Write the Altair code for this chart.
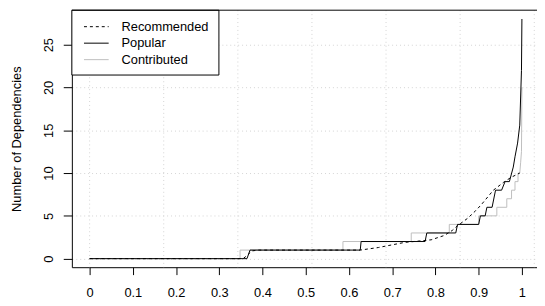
import altair as alt
import pandas as pd

series_names = ["Recommended", "Popular", "Contributed"]

rec_x = [0.0, 0.355, 0.365, 0.375, 0.39, 0.626, 0.668, 0.729, 0.771, 0.79, 0.82, 0.839, 0.85, 0.874, 0.893, 0.906, 0.934, 0.957, 0.975, 0.995]
rec_y = [0, 0, 0.4, 0.9, 1, 1, 1.3, 1.9, 2.1, 2.2, 2.7, 3.3, 3.8, 4.7, 5.6, 6.3, 8.0, 8.9, 9.5, 10]

pop_x = [0.0, 0.364, 0.371, 0.626, 0.628, 0.776, 0.780, 0.847, 0.851, 0.900, 0.904, 0.915, 0.919, 0.931, 0.939, 0.953, 0.961, 0.971, 0.980, 0.984, 0.990, 0.995, 0.999, 1.0]
pop_y = [0, 0, 1, 1, 2, 2, 3, 3, 4, 4, 5, 5, 6, 6, 8, 8, 9, 9, 10.7, 11.9, 13.5, 15.6, 22, 28]

con_x = [0.0, 0.348, 0.348, 0.586, 0.586, 0.744, 0.744, 0.832, 0.832, 0.900, 0.900, 0.942, 0.942, 0.965, 0.965, 0.976, 0.976, 0.984, 0.984, 0.991, 0.991, 0.995, 0.997, 0.999, 1.0]
con_y = [0, 0, 1, 1, 2, 2, 3, 3, 4, 4, 5, 5, 6, 6, 7, 7, 8, 8, 9, 9, 10, 10, 11.2, 12.5, 20]

x_ticks = [0, 0.1, 0.2, 0.3, 0.4, 0.5, 0.6, 0.7, 0.8, 0.9, 1]
y_ticks = [0, 5, 10, 15, 20, 25]
grid_x = [0.0, 0.1714, 0.3429, 0.5143, 0.6857, 0.8571, 1.0286]

W = 471.3
H = 260.4

xscale = alt.Scale(domain=[-0.0411, 1.0349], nice=False, zero=False)
yscale = alt.Scale(domain=[-1.0, 29.03], nice=False, zero=False)

x_axis = alt.Axis(values=x_ticks, format="~g", title=None, grid=False,
                  tickSize=7.5, labelPadding=12.3, labelFontSize=13,
                  labelFlush=False, labelOverlap=False,
                  domainColor="black", tickColor="black", labelColor="black")
y_axis = alt.Axis(values=y_ticks, format="d", title="Number of Dependencies",
                  grid=True, gridColor="#d3d3d3", gridDash=[1, 3],
                  tickSize=8.7, labelPadding=10.7, labelFontSize=13,
                  labelAngle=270, labelAlign="center", labelBaseline="alphabetic",
                  labelFlush=False, labelOverlap=False,
                  domainColor="black", tickColor="black", labelColor="black",
                  titleAngle=270, titleX=-52, titleY=130.2, titleAlign="center",
                  titleBaseline="alphabetic", titleFontSize=13,
                  titleFontWeight="normal", titleColor="black")

def series_df(xs, ys):
    return pd.DataFrame({"x": xs, "y": ys, "i": list(range(len(xs)))})

styles = {
    "Recommended": dict(color="black", strokeDash=[3, 3]),
    "Popular": dict(color="black"),
    "Contributed": dict(color="#bebebe"),
}
data_map = {
    "Recommended": (rec_x, rec_y),
    "Popular": (pop_x, pop_y),
    "Contributed": (con_x, con_y),
}

grid = alt.Chart(pd.DataFrame({"gx": grid_x})).mark_rule(
    color="#d3d3d3", strokeDash=[1, 3], strokeWidth=1
).encode(x=alt.X("gx:Q", scale=xscale, axis=x_axis))

line_layers = []
for name in ["Contributed", "Recommended", "Popular"]:
    xs, ys = data_map[name]
    line_layers.append(
        alt.Chart(series_df(xs, ys)).mark_line(strokeWidth=1, **styles[name]).encode(
            x=alt.X("x:Q", scale=xscale, axis=x_axis),
            y=alt.Y("y:Q", scale=yscale, axis=y_axis),
            order=alt.Order("i:Q"),
        )
    )

one = pd.DataFrame({"k": [series_names[0]]})
top_border = alt.Chart(one).mark_rule(color="black", strokeWidth=1).encode(
    x=alt.value(0), x2=alt.value(W), y=alt.value(0)
)
legend_box = alt.Chart(one).mark_rect(fill="white", stroke="black", strokeWidth=1).encode(
    x=alt.value(0), x2=alt.value(149), y=alt.value(0), y2=alt.value(65.7)
)
legend_layers = []
for i, name in enumerate(series_names):
    ry = 16.7 * (i + 1)
    d = pd.DataFrame({"name": [name]})
    legend_layers.append(
        alt.Chart(d).mark_rule(strokeWidth=1, **styles[name]).encode(
            x=alt.value(12.3), x2=alt.value(37.3), y=alt.value(ry)
        )
    )
    legend_layers.append(
        alt.Chart(d).mark_text(align="left", baseline="middle", fontSize=13, color="black").encode(
            x=alt.value(50.3), y=alt.value(ry), text="name:N"
        )
    )

chart = alt.layer(grid, *line_layers, legend_box, *legend_layers, top_border).properties(
    width=W, height=H,
    autosize="none",
    padding={"left": 64.7, "top": 0.3, "right": 0, "bottom": 32},
).configure(font="Liberation Sans").configure_view(stroke=None).configure_axis(
    labelFont="Liberation Sans", titleFont="Liberation Sans"
)

chart.save("out.html", embed_options={"renderer": "svg", "actions": False})
